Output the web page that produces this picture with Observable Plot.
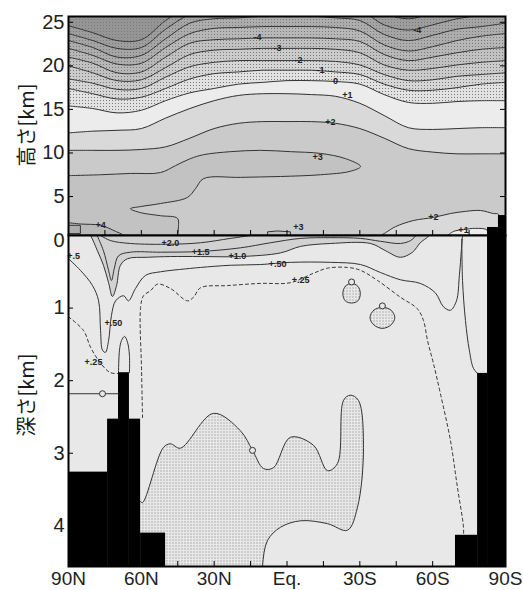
<!DOCTYPE html>
<html>
<head>
<meta charset="utf-8">
<script src="https://cdn.jsdelivr.net/npm/d3@7"></script>
<script src="https://cdn.jsdelivr.net/npm/@observablehq/plot@0.6"></script>
<style>
html,body{margin:0;padding:0;background:#fff;}
#wrap{position:relative;width:523px;height:590px;background:#fff;}
#atm,#ocn{position:absolute;left:0;}
#atm{top:0;}
#ocn{top:235px;}
.ylab{position:absolute;font-family:"Noto Sans CJK JP",sans-serif;font-size:20px;color:#1a1a1a;white-space:nowrap;transform:translate(-50%,-50%) rotate(-90deg);}
</style>
</head>
<body>
<svg width="0" height="0" style="position:absolute">
  <defs>
    <pattern id="dots" width="3" height="3" patternUnits="userSpaceOnUse">
      <rect x="1" y="1" width="1" height="1" fill="#7a7a7a"></rect>
    </pattern>
  </defs>
</svg>
<div id="wrap">
  <div id="atm"></div>
  <div id="ocn"></div>
  <div class="ylab" style="left:25px;top:125px">高さ[km]</div>
  <div class="ylab" style="left:25px;top:395px">深さ[km]</div>
</div>
<script>
// ================= DATA =================
// x axis (latitude, N positive)
const xTickValues = [90, 60, 30, 0, -30, -60, -90];
const xTickLabels = ["90N", "60N", "30N", "Eq.", "30S", "60S", "90S"];
const xMinorTicks = [75, 60, 45, 30, 15, 0, -15, -30, -45, -60, -75];
const atmYTicks = [0, 5, 10, 15, 20, 25];
const ocnYTicks = [1, 2, 3, 4];

// Atmosphere: height (km) of each temperature-change contour at each latitude
const atmLat = [90,80,70,60,50,40,30,20,10,0,-10,-20,-30,-40,-50,-60,-70,-80,-90];
const hPlus2  = [10.3,10.3,10.3,10.4,10.7,11.7,12.8,13.4,13.6,13.6,13.6,13.4,12.8,11.7,10.5,10.1,9.9,9.9,9.9];
const hPlus1  = [12.3,12.5,12.6,12.8,14.0,15.1,16.0,16.6,16.8,16.8,16.7,16.5,15.7,14.3,12.9,12.7,12.8,12.9,12.9];
const hZero   = [15.4,15.1,14.6,14.9,16.0,16.9,17.4,17.9,18.1,18.3,18.3,18.2,17.9,16.7,15.8,15.7,15.9,16.0,16.0];
const hMinus1 = [17.4,16.8,16.2,16.4,17.4,18.5,19.1,19.3,19.5,19.5,19.5,19.3,19.0,17.9,17.2,17.2,17.5,17.9,18.1];
const hMinus2 = [18.5,18.0,17.3,17.4,18.7,19.9,20.4,20.6,20.6,20.6,20.6,20.5,20.1,19.0,18.3,18.4,18.8,19.0,19.2];
const hMinus3 = [20.0,19.2,18.3,18.4,19.8,21.3,21.8,21.9,22.0,22.0,22.0,21.9,21.5,20.1,19.5,19.7,20.1,20.4,20.6];
const hMinus4 = [21.0,20.3,19.2,19.3,21.0,22.6,23.0,23.1,23.2,23.2,23.2,23.1,22.8,21.3,20.6,21.0,21.5,21.9,22.1];
const hMinus5 = [22.0,21.2,20.2,20.3,22.1,23.7,24.3,24.4,24.5,24.5,24.5,24.4,24.0,22.4,21.7,22.2,22.9,23.4,23.7];
const hMinus6 = [22.9,22.1,21.0,21.2,23.1,24.9,25.4,25.5,25.7,25.7,25.7,25.5,25.2,23.6,22.9,23.5,24.2,24.5,24.9];
const hMinus7 = [23.7,22.9,22.0,22.1,24.2,25.9,26.5,26.6,26.7,26.7,26.7,26.6,26.4,24.7,24.1,24.7,25.4,25.8,26.1];
const hMinus8 = [24.6,23.8,22.9,23.0,25.2,26.9,27.5,27.6,27.7,27.7,27.7,27.6,27.4,26.0,25.4,26.0,26.6,27.0,27.3];

// closed warm regions near the surface / upper troposphere
const warm3Lat = [90,76.8,64.5,52.1,45.9,39.8,34.4,23.3,10.9,-1.4,-13.8,-24.1,-30.3,-26.1,-13.8,2.7,19.2,34.4,37.7,41.0,52.1,60.3,64.5,60.3,52.1,45.1,44.7,45.1,45.1,90];
const warm3H   = [7.4,7.5,7.65,7.75,8.55,9.35,9.8,10.15,10.3,10.15,9.95,9.35,8.45,7.9,7.5,7.3,7.2,7.05,5.9,4.9,4.2,3.85,3.6,3.15,2.8,2.5,1.55,0.53,-1,-1];
const warm4Lat = [90,85.1,76.8,70.6,67.5,66,90];
const warm4H   = [2.0,1.85,1.7,1.0,0.53,-1,-1];
const warm5Lat = [90,85.1,85.1,90];
const warm5H   = [1.7,1.7,0.75,0.75];
const eqBoxLat = [8.0,8.0,4.0,-1.4,-1.4];
const eqBoxH   = [0.3,0.95,1.05,0.95,0.3];
const sh2Lat = [-37.3,-40.6,-44.7,-52.1,-60.3,-67.3,-73.5,-79.7,-85.0,-87.1,-87.1,-37.3];
const sh2H   = [0.3,0.85,1.55,2.25,2.6,3.05,3.3,3.4,3.05,2.95,-1,-1];
const sh1Lat = [-66.1,-68.6,-72.7,-77.6,-82.6,-82.6,-66.1];
const sh1H   = [0.53,1.0,1.2,1.35,1.1,-1,-1];
// Antarctic topography in atmosphere
const antLat1 = [-82.6,-87.1];
const antLat2 = [-87.1,-90];
const antTop  = [1.45,2.82];

const atmLabelText = ["-4","-4","-3","-2","-1","0","+1","+2","+3","+4","+3","+2","+1"];
const atmLabelLat  = [12.2,-53.7,3.9,-4.7,-13.8,-20.0,-24.9,-17.9,-12.6,76.8,-4.7,-60.3,-72.7];
const atmLabelH    = [23.25,24.05,22.0,20.6,19.46,18.3,16.6,13.5,9.5,1.7,1.45,2.6,1.1];

// Ocean
const bathyLat1 = [90,73.9,69.4,64.9,60.3,-69.4,-78.5,-82.6];
const bathyLat2 = [73.9,69.4,64.9,60.3,50.0,-78.5,-82.6,-90];
const bathyTop  = [3.26,2.53,1.89,2.53,4.10,4.13,1.90,0];

const warmOcnLat = [82,80.9,78.1,75.6,73.5,71.9,70.2,68.6,65.7,57.5,48.0,35.6,19.2,2.7,-5.6,-18.0,-34.4,-40.6,-46.7,-51.7,-54.9,-58.3,-59.5];
const warmOcnD   = [-0.05,0,0.21,0.41,0.65,0.84,0.69,0.41,0.32,0.30,0.29,0.29,0.29,0.24,0.15,0.11,0.11,0.21,0.30,0.23,0.10,0.01,-0.05];
const p15Lat = [78.1,75.6,73.5,72.3,71.1,69.4,64.5,52.1,35.6,19.2,6.8,-5.6,-18.0,-30.3,-38.5,-46.7,-50.9,-52.9];
const p15D   = [0.01,0.21,0.48,0.62,0.45,0.28,0.23,0.23,0.22,0.17,0.10,0.04,0.03,0.04,0.08,0.11,0.07,0.01];
const p20Lat = [76.8,72.7,64.5,48.0,35.6,23.3,15.0];
const p20D   = [0,0.07,0.11,0.12,0.10,0.04,0];
const p50Lat = [90,85.1,80.1,77.6,76.8,76.0,74.8,73.5,72.3,70.6,67.3,65.3,62.4,58.3,52.1,41.8,35.6,23.3,10.9,-1.4,-18.0,-30.3,-38.5,-46.7,-54.9,-61.1,-64.4,-67.3,-69.8,-71.0,-71.8,-72.3];
const p50D   = [0.32,0.48,0.69,0.90,1.31,1.58,1.61,1.45,1.10,0.90,0.83,0.90,0.73,0.55,0.50,0.46,0.44,0.41,0.40,0.37,0.37,0.40,0.51,0.61,0.66,0.79,0.98,1.03,0.90,0.55,0.21,0.0];
const p25Lat = [59.5,59.9,60.3,59.1,56.2,53.3,48.0,41.0,38.5,35.6,24.5,10.9,-1.4,-10.9,-16.7,-24.9,-30.3,-37.3,-46.7,-53.7,-56.2,-57.9,-60.3,-63.2,-67.3,-70.2,-72.7,-72.7];
const p25D   = [2.51,1.86,0.99,0.83,0.76,0.67,0.73,0.90,0.85,0.72,0.69,0.66,0.65,0.52,0.45,0.44,0.48,0.62,0.85,1.01,1.17,1.45,1.76,2.18,2.82,3.47,4.02,4.13];
const p25LeftLat = [90,83.8,80.9,76.8,72.7,69.4];
const p25LeftD   = [1.12,1.31,1.54,1.76,1.89,1.90];
const ridgeLat = [69.4,69.0,68.2,66.9,65.7,64.9,64.9];
const ridgeD   = [1.89,1.58,1.45,1.39,1.47,1.65,1.89];
const arcticZeroLat = [90,69.4];
const arcticZeroD   = [2.18,2.18];
const shelfLat = [-72.0,-72.3,-73.5,-75.1,-76.8,-78.5];
const shelfD   = [0.05,0.62,1.17,1.58,1.83,1.90];
const deepLat = [60.5,59.5,50.9,48.0,43.9,30.3,19.2,14.2,9.7,5.6,-1.4,-10.9,-16.7,-20.8,-23.3,-26.1,-29.4,-31.5,-29.0,-24.9,-16.7,-5.6,2.7,8.0,10.1,10.1,60.5];
const deepD   = [3.66,3.68,2.92,2.87,2.93,2.45,2.69,2.96,3.21,3.20,2.78,2.89,3.24,3.14,2.27,2.20,2.27,2.92,3.75,4.06,3.97,3.93,4.02,4.20,4.56,4.9,4.9];
const loop1Lat = [-23.0,-24.0,-26.6,-29.2,-30.2,-29.2,-26.6,-24.0];
const loop1D   = [0.80,0.70,0.66,0.70,0.80,0.90,0.93,0.90];
const loop2Lat = [-34.2,-35.7,-39.3,-42.9,-44.4,-42.9,-39.3,-35.7];
const loop2D   = [1.13,1.03,0.99,1.03,1.13,1.23,1.28,1.23];
const zeroMarkLat = [14.2,76.0,-26.6,-39.3];
const zeroMarkD   = [2.96,2.18,0.64,0.97];

const ocnLabelText = ["+2.0","+1.5","+1.0","+.50","+.25","+.5","+.50","+.25"];
const ocnLabelLat  = [48.0,35.6,20.4,3.9,-5.6,87.9,71.5,79.7];
const ocnLabelD    = [0.11,0.23,0.28,0.39,0.62,0.28,1.21,1.75];

// ================= STYLE =================
const atmLevelArrays = [hPlus2,hPlus1,hZero,hMinus1,hMinus2,hMinus3,hMinus4,hMinus5,hMinus6,hMinus7,hMinus8];
const atmBandColors = ["#d9d9d9","#ececec","#e2e2e2","#d6d6d6","#cbcbcb","#c1c1c1","#b7b7b7","#adadad","#a5a5a5","#9d9d9d","#959595"];
const atmBase = "#cacaca";
const line = "#333";
const curve = "catmull-rom";
const tickFont = "Liberation Sans, Arial, sans-serif";
const pts = (la, v) => la.map((lat, i) => ({lat, v: v[i]}));

const levelTables = atmLevelArrays.map(a => pts(atmLat, a));
const W = 523, ML = 68, MR = 18;
const fw = W - ML - MR;

// ---------------- Atmosphere ----------------
const atmH = 235, atmMT = 16, atmMB = 0;
const atmFH = atmH - atmMT - atmMB;
const poly = (la, v, fill, extra = {}) => Plot.line(pts(la, v), {x: "lat", y: "v", fill, stroke: line, strokeWidth: 1, curve, clip: true, ...extra});

const atm = Plot.plot({
  width: W, height: atmH,
  marginLeft: ML, marginRight: MR, marginTop: atmMT, marginBottom: atmMB,
  x: {domain: [90, -90], axis: null},
  y: {domain: [0.53, 25.66], axis: null},
  style: {background: "transparent", overflow: "visible"},
  marks: [
    Plot.frame({fill: atmBase, stroke: null}),
    ...levelTables.map((t, k) => Plot.areaY(t, {x: "lat", y1: "v", y2: 40, fill: atmBandColors[k], curve, clip: true})),
    Plot.areaY(levelTables[2], {x: "lat", y1: "v", y2: 40, fill: "url(#dots)", curve, clip: true}),
    poly(warm3Lat, warm3H, "#c2c2c2"),
    poly(warm4Lat, warm4H, "#b9b9b9"),
    poly(warm5Lat, warm5H, "#adadad", {curve: "linear"}),
    poly(eqBoxLat, eqBoxH, "#c2c2c2", {curve: "linear"}),
    poly(sh2Lat, sh2H, "#d9d9d9"),
    poly(sh1Lat, sh1H, "#ececec"),
    ...levelTables.map(t => Plot.line(t, {x: "lat", y: "v", stroke: line, strokeWidth: 1, curve, clip: true})),
    Plot.text(atmLabelText.map((t, i) => ({t, lat: atmLabelLat[i], v: atmLabelH[i]})),
      {x: "lat", y: "v", text: "t", fontSize: 9, fontWeight: "bold", fill: "#222", fontFamily: tickFont}),
    Plot.rect(antLat1.map((a, i) => ({a, b: antLat2[i], t: antTop[i]})), {x1: "a", x2: "b", y1: 0, y2: "t", fill: "black", clip: true}),
    Plot.tickY(atmYTicks.filter(d => d > 0), {y: d => d, insetRight: fw - 5, stroke: "black"}),
    Plot.tickY(atmYTicks.filter(d => d > 0), {y: d => d, insetLeft: fw - 5, stroke: "black"}),
    Plot.tickX(xMinorTicks, {x: d => d, insetTop: atmFH - 5, stroke: "black"}),
    Plot.frame({stroke: "black", strokeWidth: 2}),
    Plot.axisY({ticks: atmYTicks, tickFormat: d => String(d), tickSize: 0, tickPadding: 4, fontSize: 20, fontFamily: tickFont, fill: "#222", label: null})
  ]
});
document.getElementById("atm").appendChild(atm);

// ---------------- Ocean ----------------
const ocnH = 355, ocnMT = 0, ocnMB = 24;
const ocnFH = ocnH - ocnMT - ocnMB;
const ocnTickLabel = d => xTickLabels[xTickValues.indexOf(d)];

const ocn = Plot.plot({
  width: W, height: ocnH,
  marginLeft: ML, marginRight: MR, marginTop: ocnMT, marginBottom: ocnMB,
  x: {domain: [90, -90], axis: null},
  y: {domain: [4.56, 0], axis: null},
  style: {background: "transparent", overflow: "visible"},
  marks: [
    Plot.frame({fill: "#e8e8e8", stroke: null}),
    poly(warmOcnLat, warmOcnD, "#d2d2d2"),
    poly(deepLat, deepD, "url(#dots)"),
    poly(loop1Lat, loop1D, "url(#dots)", {curve: "catmull-rom-closed"}),
    poly(loop2Lat, loop2D, "url(#dots)", {curve: "catmull-rom-closed"}),
    Plot.line(pts(p15Lat, p15D), {x: "lat", y: "v", stroke: line, strokeWidth: 1, curve, clip: true}),
    Plot.line(pts(p20Lat, p20D), {x: "lat", y: "v", stroke: line, strokeWidth: 1, curve, clip: true}),
    Plot.line(pts(p50Lat, p50D), {x: "lat", y: "v", stroke: line, strokeWidth: 1, curve, clip: true}),
    Plot.line(pts(p25Lat, p25D), {x: "lat", y: "v", stroke: line, strokeWidth: 1, strokeDasharray: "3,3", curve, clip: true}),
    Plot.line(pts(p25LeftLat, p25LeftD), {x: "lat", y: "v", stroke: line, strokeWidth: 1, strokeDasharray: "3,3", curve, clip: true}),
    Plot.line(pts(ridgeLat, ridgeD), {x: "lat", y: "v", stroke: line, strokeWidth: 1, curve, clip: true}),
    Plot.line(pts(arcticZeroLat, arcticZeroD), {x: "lat", y: "v", stroke: line, strokeWidth: 1, clip: true}),
    Plot.line(pts(shelfLat, shelfD), {x: "lat", y: "v", stroke: line, strokeWidth: 1, curve, clip: true}),
    Plot.dot(pts(zeroMarkLat, zeroMarkD), {x: "lat", y: "v", r: 3, stroke: line, fill: "#e8e8e8", strokeWidth: 1}),
    Plot.text(ocnLabelText.map((t, i) => ({t, lat: ocnLabelLat[i], v: ocnLabelD[i]})),
      {x: "lat", y: "v", text: "t", fontSize: 9, fontWeight: "bold", fill: "#222", fontFamily: tickFont}),
    Plot.rect(bathyLat1.map((a, i) => ({a, b: bathyLat2[i], t: bathyTop[i]})), {x1: "a", x2: "b", y1: "t", y2: 4.56, fill: "black"}),
    Plot.tickY(ocnYTicks, {y: d => d, insetRight: fw - 5, stroke: "black"}),
    Plot.tickY(ocnYTicks, {y: d => d, insetLeft: fw - 5, stroke: "black"}),
    Plot.tickX(xMinorTicks, {x: d => d, insetTop: ocnFH - 5, stroke: "black"}),
    Plot.frame({stroke: "black", strokeWidth: 2}),
    Plot.axisY({ticks: ocnYTicks, tickFormat: d => String(d), tickSize: 0, tickPadding: 4, fontSize: 20, fontFamily: tickFont, fill: "#222", label: null}),
    Plot.axisX({ticks: xTickValues, tickFormat: ocnTickLabel, tickSize: 0, tickPadding: 5, fontSize: 19, fontFamily: tickFont, fill: "#222", label: null})
  ]
});
document.getElementById("ocn").appendChild(ocn);
</script>
</body>
</html>
